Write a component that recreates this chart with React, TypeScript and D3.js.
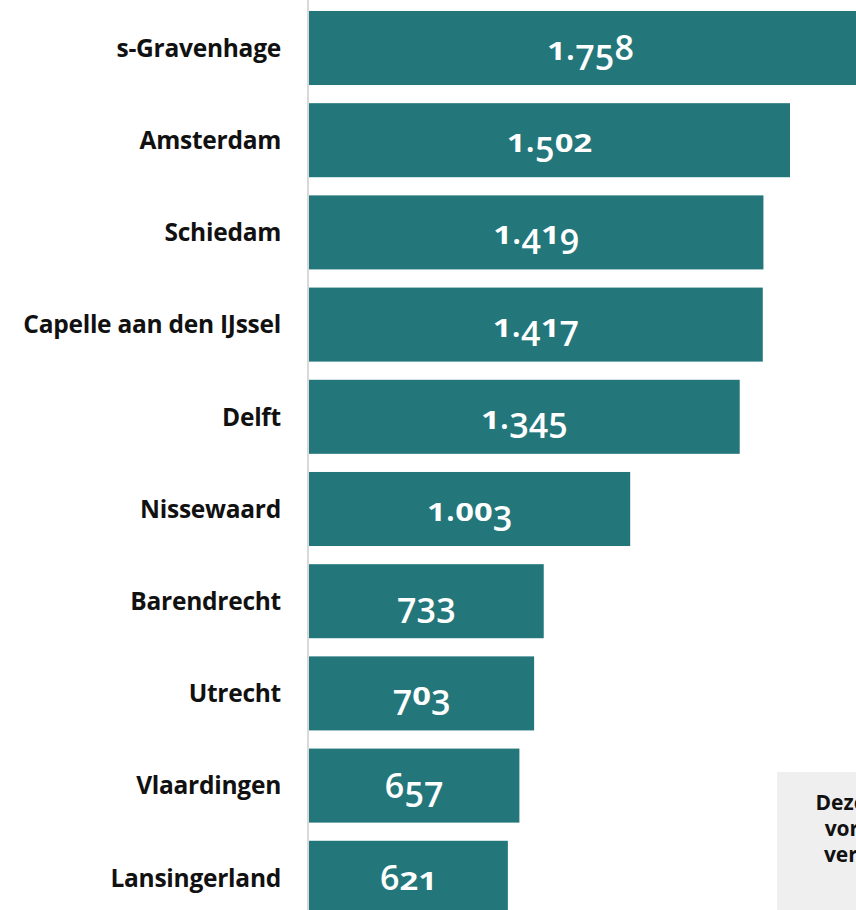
import React from "react";
import * as d3 from "d3";

const categories = [
  "s-Gravenhage",
  "Amsterdam",
  "Schiedam",
  "Capelle aan den IJssel",
  "Delft",
  "Nissewaard",
  "Barendrecht",
  "Utrecht",
  "Vlaardingen",
  "Lansingerland",
];
const values = [1758, 1502, 1419, 1417, 1345, 1003, 733, 703, 657, 621];
const noteLines = ["Deze gemeenten", "vormen samen", "verhuisde naar"];

const W = 856;
const H = 910;

// old-style figure emulation (x-height, descending and ascending digits)
const SMALL = new Set(["0", "1", "2"]);
const DESC = new Set(["3", "4", "5", "7", "9"]);

function OldStyleNumber({
  text,
  cx,
  baseline,
  size,
  font,
}: {
  text: string;
  cx: number;
  baseline: number;
  size: number;
  font: string;
}) {
  const digitAdv = size * 0.575;
  const chars = text.split("").map((ch) => {
    if (ch === ".") return { ch, adv: size * 0.28, sx: 1, sy: 1, dy: 0, w: 600 };
    if (SMALL.has(ch)) return { ch, adv: digitAdv * 0.96, sx: 0.96, sy: 0.72, dy: 0, w: 700 };
    if (DESC.has(ch)) return { ch, adv: digitAdv, sx: 1, sy: 1, dy: size * 0.28, w: 600 };
    return { ch, adv: digitAdv, sx: 1, sy: 1, dy: 0, w: 600 };
  });
  const total = d3.sum(chars, (c) => c.adv);
  let xp = cx - total / 2;
  return (
    <g>
      {chars.map((c, i) => {
        const xx = xp;
        xp += c.adv;
        return (
          <text
            key={i}
            transform={`translate(${xx},${baseline + c.dy}) scale(${c.sx},${c.sy})`}
            fill="#ffffff"
            fontFamily={font}
            fontWeight={c.w}
            fontSize={size}
          >
            {c.ch}
          </text>
        );
      })}
    </g>
  );
}

export default function App() {
  const x0 = 309;
  const x = d3.scaleLinear().domain([0, 1502]).range([x0, 790]);
  const y = d3
    .scaleBand<string>()
    .domain(categories)
    .range([11 - 9.1, 11 - 9.1 + 92.2 * categories.length])
    .paddingInner(0.197)
    .paddingOuter(0.0985);
  const fmt = (v: number) => d3.format(",")(v).replace(/,/g, ".");
  const font = "'Open Sans', sans-serif";
  return (
    <svg
      width={W}
      height={H}
      style={{ position: "absolute", left: 0, top: 0, display: "block" }}
    >
      <rect x={0} y={0} width={W} height={H} fill="#ffffff" />
      {categories.map((c, i) => {
        const yy = y(c)!;
        const bw = y.bandwidth();
        const x1 = x(values[i]);
        const cx = (x0 + x1) / 2;
        return (
          <g key={c}>
            <rect x={x0} y={yy} width={x1 - x0} height={bw} fill="#23777a" />
            <OldStyleNumber
              text={fmt(values[i])}
              cx={cx}
              baseline={yy + bw / 2 + 12}
              size={34}
              font={font}
            />
            <text
              x={281}
              y={yy + bw / 2}
              dy="0.36em"
              textAnchor="end"
              fill="#111111"
              fontFamily={font}
              fontWeight={700}
              fontSize={24.5}
              letterSpacing={-0.25}
            >
              {c}
            </text>
          </g>
        );
      })}
      <line x1={308} x2={308} y1={0} y2={H} stroke="#d9d9d9" strokeWidth={2} />
      <rect x={777} y={772} width={200} height={200} fill="#efefef" />
      {noteLines.map((t, i) => (
        <text
          key={i}
          x={903}
          y={810 + i * 26}
          textAnchor="middle"
          fill="#111111"
          fontFamily={font}
          fontWeight={700}
          fontSize={21}
        >
          {t}
        </text>
      ))}
    </svg>
  );
}
